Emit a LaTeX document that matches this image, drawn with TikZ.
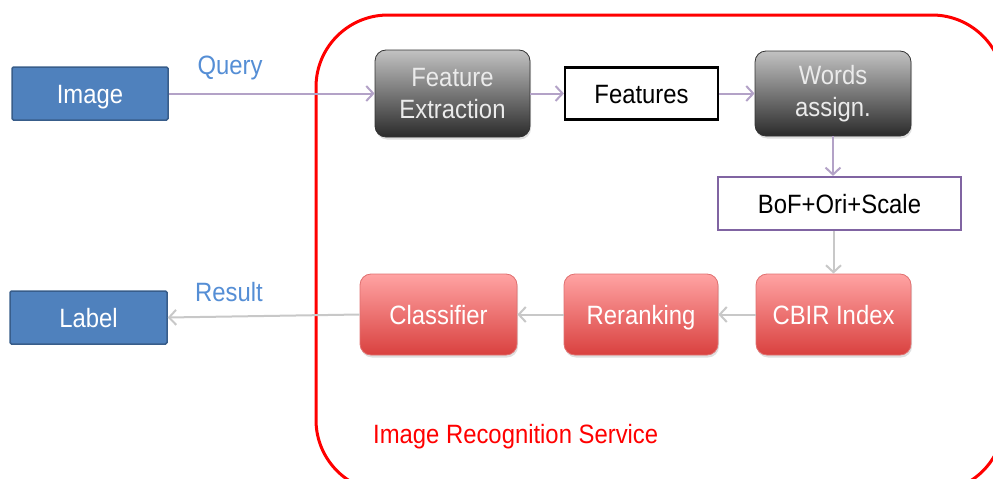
\documentclass[tikz,border=0pt]{standalone}
\usepackage{fontspec}
\setmainfont{Liberation Sans}[FakeStretch=0.9]
\usetikzlibrary{arrows.meta,shadows,calc}

\definecolor{blueFill}{HTML}{4F81BD}
\definecolor{blueLine}{HTML}{385D8A}
\definecolor{queryBlue}{HTML}{558ED5}
\definecolor{flowPurple}{HTML}{B3A2C7}
\definecolor{boxPurple}{HTML}{8064A2}
\definecolor{flowGray}{HTML}{C8C8C8}
\definecolor{redTop}{HTML}{FFA3A3}
\definecolor{redBottom}{HTML}{D9413F}
\definecolor{redLine}{HTML}{E07070}
\definecolor{grayTop}{HTML}{C2C2C2}
\definecolor{grayBottom}{HTML}{2B2B2B}

\tikzset{
  txt/.style={font=\fontsize{26.5}{32}\selectfont, align=center, inner sep=0pt},
  oneline/.style={text height=19pt, text depth=0pt},
  endpoint/.style={txt, oneline, rectangle, fill=blueFill, draw=blueLine, line width=1.5pt,
    text=white, rounded corners=1.5pt},
  darkstage/.style={txt, rectangle, rounded corners=11pt, top color=grayTop,
    bottom color=grayBottom, draw=black!80, line width=0.8pt, text=white!92!black,
    drop shadow={opacity=0.25, shadow xshift=1pt, shadow yshift=-2.5pt}},
  redstage/.style={txt, oneline, rectangle, rounded corners=11pt, top color=redTop,
    bottom color=redBottom, draw=redLine, line width=0.8pt, text=white,
    drop shadow={opacity=0.25, shadow xshift=1pt, shadow yshift=-2.5pt}},
  databox/.style={txt, oneline, rectangle, fill=white, draw=black, line width=2.2pt},
  flow/.style={line width=2pt, -{Straight Barb[length=7pt,width=15pt,line width=2pt]}},
  tag/.style={font=\fontsize{26.5}{32}\selectfont, text=queryBlue, inner sep=0pt}
}

\begin{document}
\begin{tikzpicture}[x=1pt, y=-1pt]
  \useasboundingbox (0,0) rectangle (993,479);
  \begin{scope}
    \clip (0,0) rectangle (993,479);
    % service frame
    \draw[red, line width=3pt, rounded corners=72pt] (316,15) rectangle (1004,492);
  \end{scope}

  % endpoints
  \node[endpoint, minimum width=156pt, minimum height=53pt] (image) at (90,93.5) {Image};
  \node[endpoint, minimum width=157pt, minimum height=53pt] (label) at (88.5,317.5) {Label};

  % upper pipeline
  \node[darkstage, minimum width=155pt, minimum height=87pt] (fe) at (452.5,93.5) {Feature\\Extraction};
  \node[databox, minimum width=153pt, minimum height=52pt] (feat) at (641.5,93.5) {Features};
  \node[darkstage, minimum width=156pt, minimum height=85pt] (words) at (833,93.5) {Words\\assign.};
  \node[databox, draw=boxPurple, minimum width=243pt, minimum height=53pt] (bof) at (839.5,203.5) {BoF+Ori+Scale};

  % lower pipeline
  \node[redstage, minimum width=155pt, minimum height=81pt] (cbir) at (833.5,314.5) {CBIR Index};
  \node[redstage, minimum width=154pt, minimum height=81pt] (rerank) at (641,314.5) {Reranking};
  \node[redstage, minimum width=157pt, minimum height=81pt] (classif) at (438.5,314.5) {Classifier};

  % connectors
  \draw[flow, flowPurple] (image.east) -- (fe.west);
  \draw[flow, flowPurple] (fe.east) -- (feat.west);
  \draw[flow, flowPurple] (feat.east) -- (words.west);
  \draw[flow, flowPurple] (words.south) -- (words.south |- bof.north);
  \draw[flow, flowGray] (cbir.north |- bof.south) -- (cbir.north);
  \draw[flow, flowGray] (cbir.west) -- (rerank.east);
  \draw[flow, flowGray] (rerank.west) -- (classif.east);
  \draw[flow, flowGray] (classif.west) -- (label.east);

  % labels
  \node[tag] (query) at (230,68) {Query};
  \node[tag] (result) at (229,292) {Result};
  \node[font=\fontsize{26.5}{32}\selectfont, text=red, inner sep=0pt, anchor=west] (svc) at (373,437) {Image Recognition Service};
\end{tikzpicture}
\end{document}
